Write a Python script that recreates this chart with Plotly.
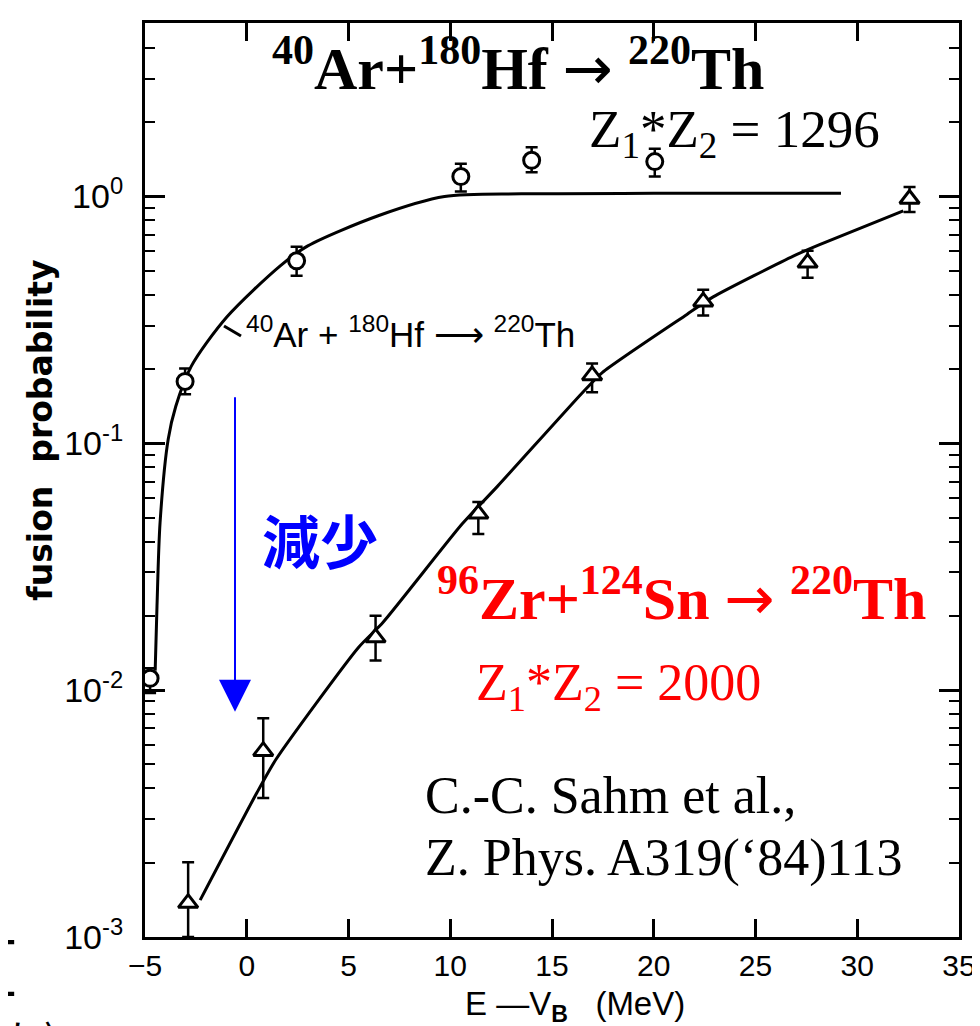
import plotly.graph_objects as go

# ---- data ----
# 40Ar + 180Hf -> 220Th (open circles)
ar_x = [-4.75, -3.03, 2.45, 10.52, 14.0, 20.05]
ar_y = [0.01117, 0.1782, 0.549, 1.205, 1.402, 1.385]
ar_hi = [0.01227, 0.201, 0.626, 1.359, 1.582, 1.563]
ar_lo = [0.00973, 0.158, 0.478, 1.048, 1.254, 1.205]

# 96Zr + 124Sn -> 220Th (open triangles)
zr_x = [-2.88, 0.81, 6.33, 11.38, 16.97, 22.43, 27.56, 32.57]
zr_y = [0.001372, 0.00566, 0.01633, 0.0518, 0.1884, 0.375, 0.5385, 0.977]
zr_hi = [0.00201, 0.00769, 0.02003, 0.0579, 0.2107, 0.4195, 0.6023, 1.092]
zr_lo = [0.0010, 0.00366, 0.01318, 0.04295, 0.1609, 0.3294, 0.4686, 0.866]

# hand-drawn curves through the data
ar_curve_x = [-4.50, -4.41, -4.26, -3.86, -3.49, -2.73, -0.98, 1.66, 3.0, 6.46, 9.72, 13.5, 20.0, 29.2]
ar_curve_y = [0.0120, 0.0220, 0.0477, 0.104, 0.141, 0.205, 0.325, 0.525, 0.631, 0.836, 1.0, 1.025, 1.03, 1.03]

zr_curve_x = [-2.29, 0.49, 1.44, 5.49, 6.69, 10.59, 12.33, 16.47, 17.47, 21.63, 22.92, 26.88, 28.12, 32.26]
zr_curve_y = [0.00141, 0.00383, 0.00525, 0.0149, 0.0188, 0.0472, 0.0671, 0.1596, 0.1936, 0.333, 0.392, 0.575, 0.637, 0.875]

x_ticks = [-5, 0, 5, 10, 15, 20, 25, 30, 35]
y_ticks = [0.001, 0.01, 0.1, 1]
y_ticktext = ["10<sup>-3</sup>", "10<sup>-2</sup>", "10<sup>-1</sup>", "10<sup>0</sup>"]
y_minor = [m * 10.0 ** e for e in (-3, -2, -1, 0) for m in range(2, 10)]

# ---- geometry helpers (pixel -> paper) ----
W, H = 980, 1026
L, R, T, B = 137, 951, 12, 929


def px(x):
    return (x - L) / (R - L)


def py(y):
    return (B - y) / (B - T)


SANS = "Liberation Sans Narrow, Liberation Sans, Arial, sans-serif"
SERIF = "Liberation Serif, Times New Roman, serif"
ARROW = '<span style="font-family:DejaVu Sans">→</span>'

fig = go.Figure()

fig.add_trace(go.Scatter(x=ar_curve_x, y=ar_curve_y, mode="lines",
                         line=dict(color="black", width=3, shape="spline", smoothing=0.8),
                         hoverinfo="skip", showlegend=False))
fig.add_trace(go.Scatter(x=zr_curve_x, y=zr_curve_y, mode="lines",
                         line=dict(color="black", width=3, shape="spline", smoothing=0.6),
                         hoverinfo="skip", showlegend=False))

fig.add_trace(go.Scatter(
    x=ar_x, y=ar_y, mode="markers", showlegend=False,
    marker=dict(symbol="circle", size=16, color="white", line=dict(color="black", width=3)),
    error_y=dict(type="data", symmetric=False,
                 array=[h - v for h, v in zip(ar_hi, ar_y)],
                 arrayminus=[v - l for v, l in zip(ar_y, ar_lo)],
                 color="black", thickness=2.5, width=6)))
fig.add_trace(go.Scatter(
    x=zr_x, y=zr_y, mode="markers", showlegend=False,
    marker=dict(symbol="triangle-up", size=17, color="white", line=dict(color="black", width=3)),
    error_y=dict(type="data", symmetric=False,
                 array=[h - v for h, v in zip(zr_hi, zr_y)],
                 arrayminus=[v - l for v, l in zip(zr_y, zr_lo)],
                 color="black", thickness=2.5, width=6)))

ann = []


def text(x, y, s, size, color="black", family=SERIF, xanchor="center", angle=0):
    ann.append(dict(xref="paper", yref="paper", x=px(x), y=py(y), text=s, showarrow=False,
                    xanchor=xanchor, yanchor="middle", textangle=angle, borderpad=0,
                    font=dict(size=size, color=color, family=family)))


text(510, 54, "<b><sup>40</sup>Ar+<sup>180</sup>Hf</b> " + ARROW + " <b><sup>220</sup>Th</b>", 60)
text(726, 122, "Z<sub>1</sub>*Z<sub>2</sub> = 1296", 53)
text(673, 586, "<b><sup>96</sup>Zr+<sup>124</sup>Sn</b> " + ARROW + " <b><sup>220</sup>Th</b>", 60, color="#FF0000")
text(610, 678, "Z<sub>1</sub>*Z<sub>2</sub> = 2000", 52, color="#FF0000")
text(416, 787, "C.-C. Sahm et al.,", 52, xanchor="left")
text(416, 850, "Z. Phys. A319(‘84)113", 52, xanchor="left")
text(312, 530, "<b>減少</b>", 58, color="#0000FF", family="Noto Sans CJK JP")
text(402, 322, "<sup>40</sup>Ar + <sup>180</sup>Hf ⟶ <sup>220</sup>Th", 35, family=SANS)
text(33, 421, "<b>fusion  probability</b>", 33, family="DejaVu Sans", angle=-90)
text(567, 998, "E —V<sub><b>B</b></sub>   (MeV)", 33, family=SANS)
# cropped fragments of neighbouring slide text at the lower-left edge
text(0, 958, "[", 62, family="DejaVu Sans")
text(22, 1030, "ち)", 42, family="Noto Sans CJK JP")

# blue arrow
ann.append(dict(xref="paper", yref="paper", x=px(227), y=py(703), ax=0, ay=387 - 703,
                axref="pixel", ayref="pixel", text="", showarrow=True,
                arrowhead=2, arrowsize=3.2, arrowwidth=2, arrowcolor="#0000FF"))

fig.update_layout(
    width=W, height=H,
    margin=dict(l=L, r=W - R, t=T, b=H - B, pad=0),
    paper_bgcolor="white", plot_bgcolor="white",
    annotations=ann,
    shapes=[dict(type="line", xref="paper", yref="paper",
                 x0=px(216), y0=py(316), x1=px(233), y1=py(326),
                 line=dict(color="black", width=3))],
    xaxis=dict(range=[-5, 35], tickmode="array", tickvals=x_ticks,
               ticks="inside", ticklen=18, tickwidth=2.5, tickcolor="black",
               showline=True, linewidth=3, linecolor="black", mirror="allticks",
               showgrid=False, zeroline=False,
               tickfont=dict(size=30, family=SANS, color="black")),
    yaxis=dict(type="log", range=[-3, 0.703], tickmode="array",
               tickvals=y_ticks, ticktext=y_ticktext,
               ticks="inside", ticklen=20, tickwidth=2.5, tickcolor="black",
               minor=dict(tickmode="array", tickvals=y_minor, ticks="inside",
                          ticklen=10, tickwidth=2, tickcolor="black", showgrid=False),
               showline=True, linewidth=3, linecolor="black", mirror="allticks",
               showgrid=False, zeroline=False, ticklabelstandoff=12,
               tickfont=dict(size=34, family=SANS, color="black")),
)

fig.write_html("out.html")
